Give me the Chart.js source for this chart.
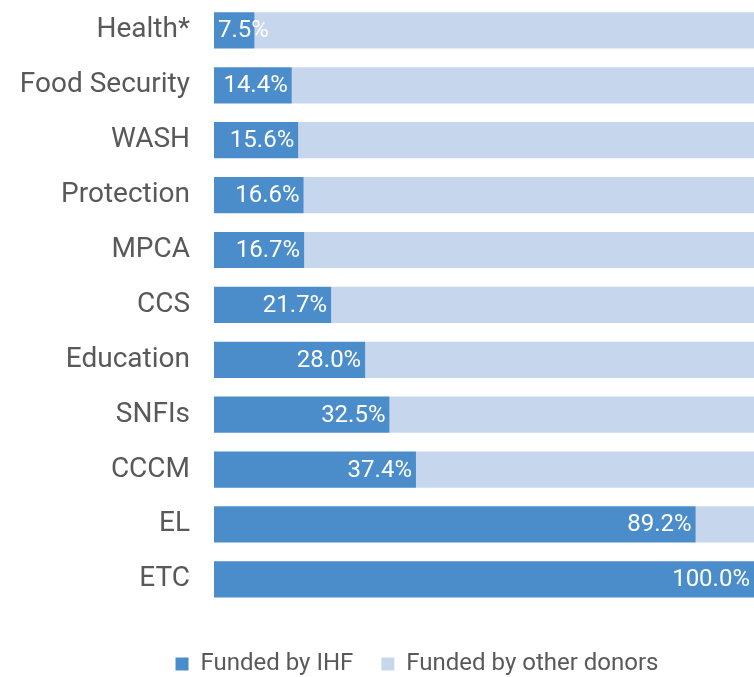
<!DOCTYPE html>
<html>
<head>
<meta charset="utf-8">
<script src="https://cdn.jsdelivr.net/npm/chart.js@4/dist/chart.umd.min.js"></script>
<style>
    html, body { margin: 0; padding: 0; background: #fff; }
    #wrap { width: 754px; height: 677px; }
</style>
</head>
<body>
<div id="wrap"><canvas id="chart"></canvas></div>
<script>
// datos
const sectors = ['Health*', 'Food Security', 'WASH', 'Protection', 'MPCA', 'CCS', 'Education', 'SNFIs', 'CCCM', 'EL', 'ETC'];
const fundedIHF = [7.5, 14.4, 15.6, 16.6, 16.7, 21.7, 28.0, 32.5, 37.4, 89.2, 100.0];
const fundedOther = [92.5, 85.6, 84.4, 83.4, 83.3, 78.3, 72.0, 67.5, 62.6, 10.8, 0.0];

const darkBlue = '#4b8dcb';
const lightBlue = '#c6d7ed';
const textGrey = '#595959';

// etiquetas blancas dentro de las barras
const valueLabels = {
    id: 'valueLabels',
    afterDatasetsDraw(chart) {
        const ctx = chart.ctx;
        const meta = chart.getDatasetMeta(0);
        ctx.save();
        ctx.font = '24px Roboto';
        ctx.fillStyle = '#ffffff';
        ctx.textBaseline = 'middle';
        ctx.textAlign = 'left';
        meta.data.forEach((bar, i) => {
            const txt = fundedIHF[i].toFixed(1) + '%';
            const w = ctx.measureText(txt).width;
            let x = bar.x - 4 - w;
            if (x < bar.base + 4) x = bar.base + 4;
            ctx.fillText(txt, x, bar.y + 1);
        });
        ctx.restore();
    }
};

// la leyenda va un poco a la derecha
const legendShift = {
    id: 'legendShift',
    afterLayout(chart) {
        chart.legend.left += 40;
        chart.legend.right += 40;
    }
};

new Chart(document.getElementById('chart'), {
    type: 'bar',
    data: {
        labels: sectors,
        datasets: [
            { label: 'Funded by IHF', data: fundedIHF, backgroundColor: darkBlue, barPercentage: 0.66, categoryPercentage: 1 },
            { label: 'Funded by other donors', data: fundedOther, backgroundColor: lightBlue, barPercentage: 0.66, categoryPercentage: 1 }
        ]
    },
    options: {
        indexAxis: 'y',
        responsive: true,
        maintainAspectRatio: false,
        animation: false,
        layout: { padding: { top: 3, right: 0, bottom: -9, left: 0 } },
        scales: {
            x: { stacked: true, min: 0, max: 100, display: false },
            y: {
                stacked: true,
                grid: { display: false, drawTicks: false },
                border: { display: false },
                ticks: { color: textGrey, font: { family: 'Roboto', size: 28 }, padding: 24 },
                afterFit(scale) {
                    scale.width = 214;
                    scale.paddingTop = 0;
                    scale.paddingBottom = 0;
                }
            }
        },
        plugins: {
            legend: {
                position: 'bottom',
                title: { display: true, text: ' ', font: { size: 1 }, padding: { top: 16, bottom: 0 } },
                labels: {
                    color: textGrey,
                    font: { family: 'Roboto', size: 24 },
                    boxWidth: 13,
                    boxHeight: 13,
                    padding: 28
                }
            },
            tooltip: { enabled: false }
        }
    },
    plugins: [valueLabels, legendShift]
});
</script>
</body>
</html>
